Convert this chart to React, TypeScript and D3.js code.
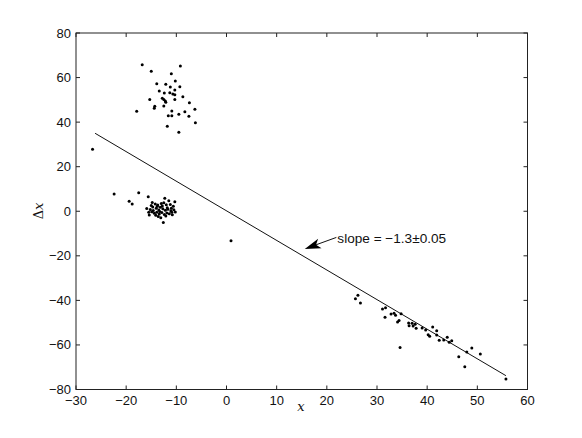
import React from "react";
import * as d3 from "d3";

const xTicks = [-30, -20, -10, 0, 10, 20, 30, 40, 50, 60];
const yTicks = [-80, -60, -40, -20, 0, 20, 40, 60, 80];

const upperCluster: [number, number][] = [
  [-16.8, 65.8], [-15.0, 62.8], [-9.2, 65.2], [-11.0, 61.7], [-10.2, 58.5], [-13.9, 57.2],
  [-12.1, 57.0], [-11.2, 55.8], [-9.3, 55.9], [-13.4, 54.0], [-12.4, 53.1], [-11.3, 53.2],
  [-10.3, 54.4], [-10.7, 52.6], [-10.3, 52.3], [-8.7, 51.4], [-15.3, 50.2], [-12.8, 50.7],
  [-12.5, 50.2], [-12.2, 49.5], [-12.1, 48.9], [-10.3, 50.2], [-7.4, 48.7], [-14.3, 47.1],
  [-14.4, 46.2], [-12.5, 47.2], [-6.3, 45.8], [-17.9, 44.9], [-10.9, 45.0], [-11.6, 42.9],
  [-10.9, 42.9], [-9.5, 43.5], [-8.3, 44.7], [-7.5, 42.6], [-6.2, 39.7], [-11.8, 38.1],
  [-9.5, 35.4], [-26.7, 27.8],
];

const lowerCluster: [number, number][] = [
  [-22.4, 7.7], [-17.5, 8.3], [-19.4, 4.5], [-18.8, 3.3],
  [-15.6, 6.5], [-12.3, 5.8], [-11.5, 4.7], [-10.3, 4.3], [-12.6, -5.0], [-13.1, -2.9], [-15.4, -1.7],
  [-14.8, 3.9], [-14.2, 3.2], [-13.7, 2.8], [-13.0, 3.5], [-12.0, 2.9], [-11.2, 3.0], [-10.6, 2.2],
  [-15.9, 1.2], [-15.2, 0.8], [-14.7, 1.9], [-14.0, 1.4], [-13.5, 0.6], [-13.2, 1.8], [-12.7, 1.1],
  [-12.2, 0.4], [-11.7, 0.9], [-11.1, 0.2], [-10.5, 0.7], [-10.2, -0.3], [-15.5, -0.5], [-14.9, -0.2],
  [-14.4, -0.9], [-13.9, -0.4], [-13.4, -1.2], [-12.9, -0.6], [-12.4, -1.5], [-11.9, -0.8], [-11.4, -1.1],
  [-10.9, -0.5], [-14.6, 0.3], [-13.8, 2.2], [-13.3, -0.1], [-12.8, 2.4], [-11.8, 1.6], [-11.0, 1.3],
  [-14.1, -1.8], [-12.1, -2.1], [-13.6, -2.4], [-10.8, -1.6], [-15.0, 2.6], [-12.5, 3.8],
  [0.9, -13.2],
];

const rightCluster: [number, number][] = [
  [25.7, -39.3], [26.2, -37.7], [26.7, -41.2], [31.1, -43.9], [31.7, -43.3], [31.6, -47.6],
  [32.8, -46.1], [33.4, -45.8], [33.7, -46.7], [34.8, -46.0], [34.1, -49.7], [34.4, -49.0],
  [34.6, -61.2], [36.3, -50.2], [36.4, -51.4], [37.0, -50.3], [37.2, -51.5], [37.6, -50.7],
  [37.8, -52.5], [39.0, -52.4], [39.7, -53.3], [40.2, -55.4], [40.5, -56.1], [41.1, -52.0],
  [41.9, -53.6], [41.9, -55.5], [42.4, -57.9], [43.3, -57.8], [44.0, -56.6], [44.4, -58.8],
  [44.9, -58.1], [46.3, -65.3], [47.5, -69.8], [47.9, -63.2], [48.9, -61.4], [50.6, -64.1],
  [55.7, -75.3],
];

const fitLine: [number, number][] = [[-26.2, 35.0], [55.7, -73.8]];
const annotationText = "slope = \u22121.3\u00b10.05";
const annotationTextPos: [number, number] = [22.1, -12.2];
const annotationTip: [number, number] = [15.6, -16.9];

export default function App() {
  const W = 582, H = 438;
  const left = 76, right = 527.5, top = 33, bottom = 389.5;
  const x = d3.scaleLinear().domain([-30, 60]).range([left, right]);
  const y = d3.scaleLinear().domain([-80, 80]).range([bottom, top]);
  const line = d3.line<[number, number]>().x((d) => x(d[0])).y((d) => y(d[1]));
  const pts = [...upperCluster, ...lowerCluster, ...rightCluster];
  const tick = 4;
  const font = "'Liberation Sans', Arial, Helvetica, sans-serif";
  const axisColor = "#222";

  const tx = x(annotationTip[0]), ty = y(annotationTip[1]);
  const sx = x(annotationTextPos[0]) - 1, sy = y(annotationTextPos[1]) - 1;
  const ang = Math.atan2(sy - ty, sx - tx);
  const len = 16, half = 5;
  const bx = tx + len * Math.cos(ang), by = ty + len * Math.sin(ang);
  const nx = -Math.sin(ang), ny = Math.cos(ang);
  const notchX = tx + len * 0.75 * Math.cos(ang), notchY = ty + len * 0.75 * Math.sin(ang);
  const head = `M${tx},${ty}L${bx + nx * half},${by + ny * half}L${notchX},${notchY}L${bx - nx * half},${by - ny * half}Z`;

  return (
    <svg width={W} height={H} style={{ position: "absolute", left: 0, top: 0, background: "#fff" }}>
      <rect x={0} y={0} width={W} height={H} fill="#fff" />
      <rect x={left} y={top} width={right - left} height={bottom - top} fill="none" stroke={axisColor} strokeWidth={1} />
      {xTicks.map((t) => (
        <g key={"x" + t}>
          <line x1={x(t)} x2={x(t)} y1={bottom} y2={bottom - tick} stroke={axisColor} />
          <line x1={x(t)} x2={x(t)} y1={top} y2={top + tick} stroke={axisColor} />
          <text x={x(t)} y={bottom + 15} fontSize={13} fontFamily={font} textAnchor="middle" fill="#111">
            {t < 0 ? "\u2212" + Math.abs(t) : t}
          </text>
        </g>
      ))}
      {yTicks.map((t) => (
        <g key={"y" + t}>
          <line x1={left} x2={left + tick} y1={y(t)} y2={y(t)} stroke={axisColor} />
          <line x1={right} x2={right - tick} y1={y(t)} y2={y(t)} stroke={axisColor} />
          <text x={left - 5} y={y(t) + 4.5} fontSize={13} fontFamily={font} textAnchor="end" fill="#111">
            {t < 0 ? "\u2212" + Math.abs(t) : t}
          </text>
        </g>
      ))}
      <text x={301} y={411} fontSize={13} fontFamily="'DejaVu Serif', 'Liberation Serif', serif" fontStyle="italic" textAnchor="middle" fill="#111">x</text>
      <text transform={`translate(43,211) rotate(-90)`} fontSize={13} fontFamily="'DejaVu Serif', 'Liberation Serif', serif" textAnchor="middle" fill="#111">
        Δ<tspan fontStyle="italic">x</tspan>
      </text>
      <path d={line(fitLine) || ""} stroke="#111" strokeWidth={1} fill="none" />
      {pts.map((p, i) => (
        <circle key={i} cx={x(p[0])} cy={y(p[1])} r={1.5} fill="#000" />
      ))}
      <line x1={sx} y1={sy} x2={notchX} y2={notchY} stroke="#111" strokeWidth={1} />
      <path d={head} fill="#000" />
      <text x={x(annotationTextPos[0])} y={y(annotationTextPos[1]) + 5} fontSize={13.6} fontFamily={font} fill="#111">
        {annotationText}
      </text>
    </svg>
  );
}
